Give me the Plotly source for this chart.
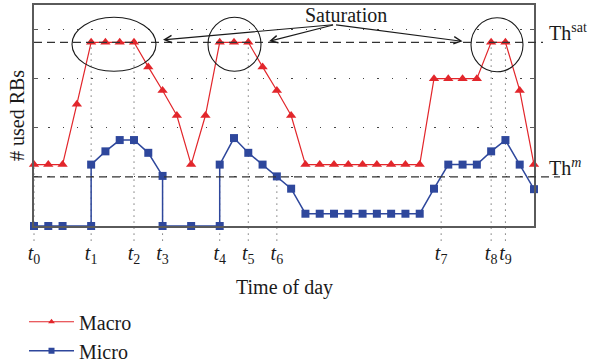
import plotly.graph_objects as go

# ---- data -------------------------------------------------------------
macro_x = list(range(36))
macro_y = [12.5, 12.5, 12.5, 24.8, 37.4, 37.4, 37.4, 37.4, 32.4, 27.6,
           22.5, 12.5, 22.5, 37.4, 37.4, 37.4, 32.4, 27.6, 22.5,
           12.5, 12.5, 12.5, 12.5, 12.5, 12.5, 12.5, 12.5, 12.5,
           30.0, 30.0, 30.0, 30.0, 37.4, 37.4, 27.6, 12.5]

micro_x = [0, 1, 2, 4, 4, 5, 6, 7, 8, 9, 9, 11, 13, 13, 14, 15, 16, 17, 18,
           19, 20, 21, 22, 23, 24, 25, 26, 27,
           28, 29, 30, 31, 32, 33, 34, 35]
micro_y = [0, 0, 0, 0, 12.5, 15.2, 17.5, 17.5, 14.9, 10.2, 0, 0, 0, 12.5,
           17.9, 14.9, 12.5, 10.1, 7.6,
           2.5, 2.5, 2.5, 2.5, 2.5, 2.5, 2.5, 2.5, 2.5,
           7.6, 12.5, 12.5, 12.5, 15.2, 17.5, 12.5, 7.5]

TH_SAT = 37.4
TH_M = 10.0

# time instants on the x axis and the level each guide line reaches
t_pos = [0, 4, 7, 9, 13, 15, 17, 28.5, 32, 33]
t_top = [12.5, 37.4, 37.4, 10.2, 12.5, 37.4, 10.1, 10.05, 37.4, 37.4]
t_labels = ["<i>t</i><sub>%d</sub>" % i for i in range(10)]

# saturation regions: (x0, x1, y0, y1) of the highlighting ellipses
sat_regions = [(2.66, 8.54, 31.5, 42.5),
               (12.18, 15.89, 31.5, 42.5),
               (30.59, 34.23, 31.4, 42.4)]
# arrow heads pointing at the ellipses
sat_arrow_heads = [(9.03, 37.9), (16.45, 37.6), (30.0, 37.6)]
sat_text_pos = (21.84, 42.9)

X_MAX = 35
Y_MAX = 45

RED = "#e2262b"
BLUE = "#2e479c"
FRAME = "#5a5a5a"
INK = "#1a1a1a"
SERIF = "Liberation Serif"

# ---- figure -----------------------------------------------------------
fig = go.Figure()

fig.add_trace(go.Scatter(
    x=macro_x, y=macro_y, mode="lines+markers", showlegend=False,
    line=dict(color=RED, width=1.2),
    marker=dict(symbol="triangle-up", size=9, color=RED),
    cliponaxis=False))
fig.add_trace(go.Scatter(
    x=micro_x, y=micro_y, mode="lines+markers", showlegend=False,
    line=dict(color=BLUE, width=1.5),
    marker=dict(symbol="square", size=8, color=BLUE),
    cliponaxis=False))

# legend entries with smaller symbols
fig.add_trace(go.Scatter(
    x=[None], y=[None], mode="lines+markers", name="Macro",
    line=dict(color=RED, width=1.2),
    marker=dict(symbol="triangle-up", size=6, color=RED)))
fig.add_trace(go.Scatter(
    x=[None], y=[None], mode="lines+markers", name="Micro",
    line=dict(color=BLUE, width=1.5),
    marker=dict(symbol="square", size=6, color=BLUE)))

shapes = []
# vertical dotted guides at the marked instants (down past the axis)
for xp, top in zip(t_pos, t_top):
    shapes.append(dict(type="line", xref="paper", yref="paper",
                       x0=xp / X_MAX, x1=xp / X_MAX,
                       y0=-0.066, y1=top / Y_MAX,
                       line=dict(color="#333333", width=1, dash="1px,5px"),
                       layer="below"))

# threshold lines
shapes.append(dict(type="line", xref="paper", yref="y", x0=0, x1=1.018,
                   y0=TH_SAT, y1=TH_SAT,
                   line=dict(color="#333333", width=1.3, dash="8px,5px")))
shapes.append(dict(type="line", xref="paper", yref="y", x0=0, x1=1.052,
                   y0=TH_M, y1=TH_M,
                   line=dict(color="#333333", width=1.3, dash="8px,5px")))

# ellipses around saturated periods
for x0, x1, y0, y1 in sat_regions:
    shapes.append(dict(type="circle", xref="x", yref="y",
                       x0=x0, x1=x1, y0=y0, y1=y1,
                       line=dict(color=INK, width=1.1)))

annotations = []
tx, ty = sat_text_pos
annotations.append(dict(x=tx, y=ty, xref="x", yref="y", text="Saturation",
                        showarrow=False, font=dict(family=SERIF, size=20, color=INK),
                        xanchor="center", yanchor="middle"))

# arrows from the label to each ellipse
for hx, hy in sat_arrow_heads:
    annotations.append(dict(x=hx, y=hy, xref="x", yref="y",
                            ax=tx - 0.8, ay=ty - 1.9, axref="x", ayref="y",
                            text="", showarrow=True, arrowhead=5,
                            arrowsize=1.3, arrowwidth=1.1, arrowcolor=INK,
                            standoff=0, startstandoff=0))

annotations.append(dict(x=1.026, y=TH_SAT, xref="paper", yref="y",
                        text="Th<sup>sat</sup>", showarrow=False,
                        xanchor="left", yanchor="bottom", yshift=-4,
                        font=dict(family=SERIF, size=20, color=INK)))
annotations.append(dict(x=1.026, y=TH_M, xref="paper", yref="y",
                        text="Th<sup><i>m</i></sup>", showarrow=False,
                        xanchor="left", yanchor="bottom", yshift=-4,
                        font=dict(family=SERIF, size=20, color=INK)))

annotations.append(dict(x=-0.035, y=0.5, xref="paper", yref="paper",
                        text="# used RBs", textangle=-90, showarrow=False,
                        xanchor="center", yanchor="middle",
                        font=dict(family=SERIF, size=20, color=INK)))
annotations.append(dict(x=0.5, y=-0.28, xref="paper", yref="paper",
                        text="Time of day", showarrow=False,
                        xanchor="center", yanchor="middle",
                        font=dict(family=SERIF, size=20, color=INK)))

fig.update_layout(
    width=590, height=362,
    margin=dict(l=34, r=56, t=5, b=136, autoexpand=False),
    paper_bgcolor="white", plot_bgcolor="white",
    font=dict(family=SERIF, size=20, color=INK),
    shapes=shapes, annotations=annotations,
    showlegend=True,
    legend=dict(x=-0.02, y=-0.345, xanchor="left", yanchor="top",
                bgcolor="rgba(0,0,0,0)", borderwidth=0,
                font=dict(family=SERIF, size=20, color=INK),
                itemwidth=45, tracegroupgap=0),
    xaxis=dict(range=[0, X_MAX], showgrid=False, zeroline=False,
               showline=True, linecolor=FRAME, linewidth=1.5, mirror=True,
               ticks="", tickvals=t_pos, ticktext=t_labels, tickangle=0,
               tickfont=dict(family=SERIF, size=20, color=INK),
               ticklabelstandoff=8),
    yaxis=dict(range=[0, Y_MAX], showgrid=True, gridcolor="#444444",
               griddash="1.3px,13px", gridwidth=1, zeroline=False,
               showline=True, linecolor=FRAME, linewidth=1.5, mirror="ticks",
               ticks="inside", ticklen=4, tickcolor=FRAME,
               tickvals=[10, 20, 30, 40], showticklabels=False),
)

fig.write_html("out.html")
